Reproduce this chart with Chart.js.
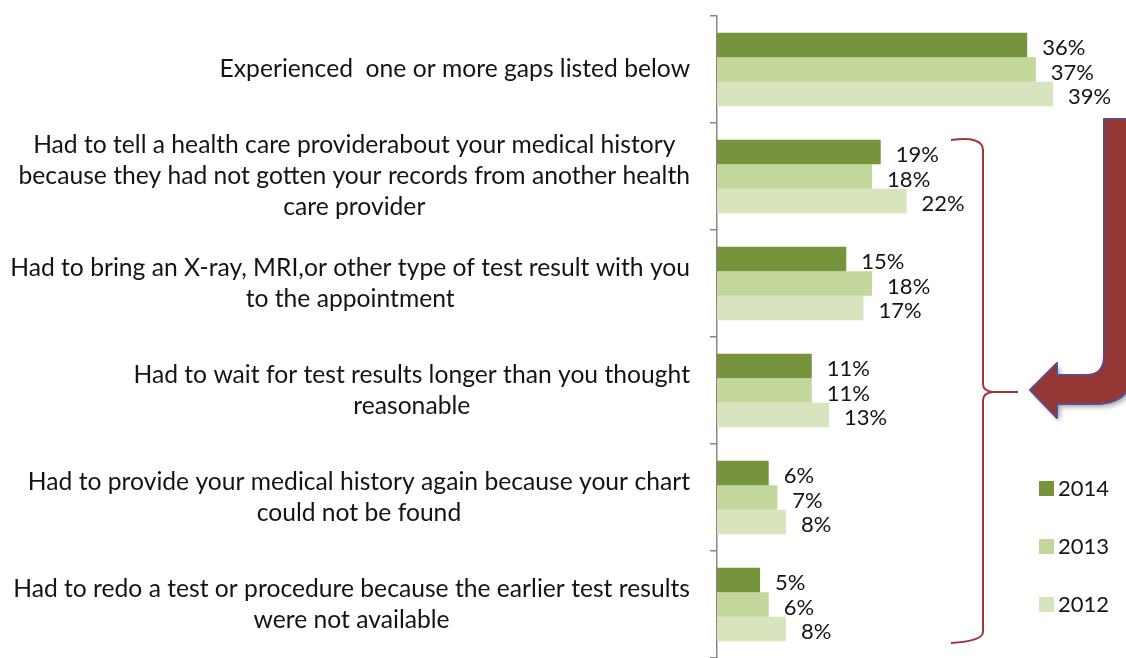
<!DOCTYPE html>
<html><head><meta charset="utf-8">
<script src="https://cdn.jsdelivr.net/npm/chart.js@4.4.1/dist/chart.umd.min.js"></script>
<style>html,body{margin:0;padding:0;background:#fff;overflow:hidden}</style>
</head><body>
<canvas id="c" width="1126" height="658" style="display:block;width:1126px;height:658px"></canvas>
<script>
const categories = [
  ["Experienced  one or more gaps listed below"],
  ["Had to tell a health care providerabout your medical history", "because they had not gotten your records from another health", "care provider"],
  ["Had to bring an X-ray, MRI,or other type of test result with you", "to the appointment"],
  ["Had to wait for test results longer than you thought", "reasonable"],
  ["Had to provide your medical history again because your chart", "could not be found"],
  ["Had to redo a test or procedure because the earlier test results", "were not available"]
];
const years = ["2014", "2013", "2012"];
const values2014 = [36, 19, 15, 11, 6, 5];
const values2013 = [37, 18, 18, 11, 7, 6];
const values2012 = [39, 22, 17, 13, 8, 8];
const colors = ["#77933C", "#C3D69B", "#D7E4BD"];

const FONT = "Lato, 'Open Sans', sans-serif";
const TEXT = "#141414";

const labelPlugin = {
  id: 'catLabels',
  afterDraw(chart) {
    const ctx = chart.ctx;
    const y = chart.scales.y;
    ctx.save();
    ctx.font = "100px " + FONT;
    let widest = 0;
    categories.forEach(c => c.forEach(l => { widest = Math.max(widest, ctx.measureText(l).width); }));
    const size = Math.min(25, 100 * 680 / widest);
    ctx.font = size + "px " + FONT;
    ctx.fillStyle = TEXT;
    ctx.textAlign = 'center';
    ctx.textBaseline = 'middle';
    const rightX = 690, lh = 31;
    categories.forEach((lines, i) => {
      const cy = y.getPixelForTick(i);
      let w = 0;
      lines.forEach(l => { w = Math.max(w, ctx.measureText(l).width); });
      const cx = rightX - w / 2;
      lines.forEach((l, j) => {
        ctx.fillText(l, cx, cy + (j - (lines.length - 1) / 2) * lh);
      });
    });
    ctx.restore();
  }
};

const valuePlugin = {
  id: 'valueLabels',
  afterDatasetsDraw(chart) {
    const ctx = chart.ctx;
    ctx.save();
    ctx.font = "22px " + FONT;
    ctx.fillStyle = TEXT;
    ctx.textAlign = 'left';
    ctx.textBaseline = 'middle';
    chart.data.datasets.forEach((ds, di) => {
      const meta = chart.getDatasetMeta(di);
      meta.data.forEach((bar, i) => {
        ctx.fillText(ds.data[i] + "%", bar.x + 15, bar.y + 3);
      });
    });
    ctx.restore();
  }
};

const legendPlugin = {
  id: 'sideLegend',
  afterDraw(chart) {
    const ctx = chart.ctx;
    ctx.save();
    ctx.font = "22px " + FONT;
    ctx.textAlign = 'left';
    ctx.textBaseline = 'middle';
    const ys = [488, 546, 604];
    chart.data.datasets.forEach((ds, i) => {
      ctx.fillStyle = ds.backgroundColor;
      ctx.fillRect(1039, ys[i] - 7, 15, 15);
      ctx.fillStyle = TEXT;
      ctx.fillText(ds.label, 1058, ys[i] + 1);
    });
    ctx.restore();
  }
};

const decoPlugin = {
  id: 'deco',
  afterDraw(chart) {
    const ctx = chart.ctx;
    ctx.save();
    ctx.strokeStyle = "#A0353A";
    ctx.lineWidth = 2;
    ctx.lineJoin = 'round';
    ctx.beginPath();
    ctx.moveTo(951, 140);
    ctx.quadraticCurveTo(983, 136, 983, 150);
    ctx.lineTo(983, 384);
    ctx.quadraticCurveTo(983, 391, 993, 392);
    ctx.quadraticCurveTo(983, 393, 983, 400);
    ctx.lineTo(983, 632);
    ctx.quadraticCurveTo(983, 641, 951, 643);
    ctx.stroke();
    ctx.beginPath();
    ctx.moveTo(993, 392);
    ctx.lineTo(1018, 392);
    ctx.stroke();
    ctx.shadowColor = "rgba(0,0,0,0.35)";
    ctx.shadowBlur = 5;
    ctx.shadowOffsetX = 3;
    ctx.shadowOffsetY = 3;
    ctx.fillStyle = "#953735";
    ctx.strokeStyle = "#5E4B8C";
    ctx.lineWidth = 2;
    ctx.beginPath();
    ctx.moveTo(1104, 119);
    ctx.lineTo(1104, 356);
    ctx.quadraticCurveTo(1104, 375, 1086, 375);
    ctx.lineTo(1057, 375);
    ctx.lineTo(1057, 363);
    ctx.lineTo(1030, 390);
    ctx.lineTo(1057, 418);
    ctx.lineTo(1057, 404);
    ctx.lineTo(1095, 404);
    ctx.quadraticCurveTo(1134, 404, 1134, 365);
    ctx.lineTo(1134, 119);
    ctx.closePath();
    ctx.fill();
    ctx.shadowColor = "transparent";
    ctx.stroke();
    ctx.restore();
  }
};

new Chart(document.getElementById('c'), {
  type: 'bar',
  data: {
    labels: categories,
    datasets: [
      { label: years[0], data: values2014, backgroundColor: colors[0] },
      { label: years[1], data: values2013, backgroundColor: colors[1] },
      { label: years[2], data: values2012, backgroundColor: colors[2] }
    ]
  },
  options: {
    indexAxis: 'y',
    responsive: false,
    animation: false,
    layout: { padding: { top: 16, right: 4, bottom: 0, left: 0 } },
    datasets: { bar: { barPercentage: 1.0, categoryPercentage: 0.685, borderWidth: 0 } },
    plugins: { legend: { display: false }, tooltip: { enabled: false } },
    scales: {
      x: { display: false, min: 0, max: 47 },
      y: {
        afterFit(s) { s.width = 717; },
        ticks: { display: false },
        grid: { drawOnChartArea: false, drawTicks: true, tickLength: 7, color: "#868686", lineWidth: 1.5 },
        border: { display: true, color: "#868686", width: 1.5 }
      }
    }
  },
  plugins: [labelPlugin, valuePlugin, legendPlugin, decoPlugin]
});
</script>
</body></html>
